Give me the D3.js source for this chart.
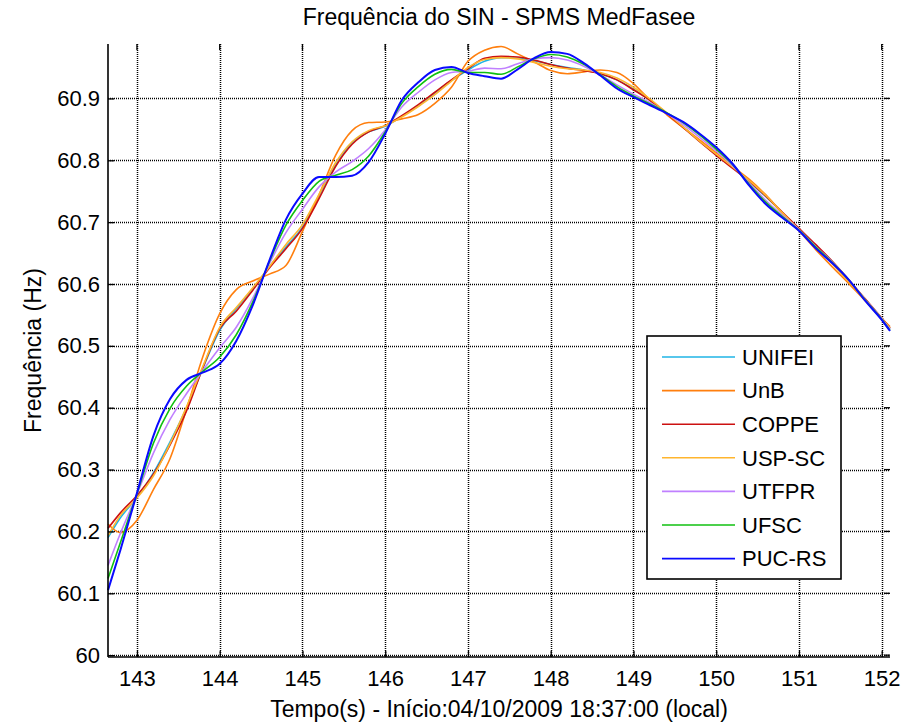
<!DOCTYPE html>
<html lang="pt">
<head>
<meta charset="utf-8">
<title>Frequência do SIN - SPMS MedFasee</title>
<script src="https://cdn.jsdelivr.net/npm/d3@7"></script>
<style>
  body { margin: 0; background: #fff; }
  svg { display: block; font-family: "Liberation Sans", Arial, sans-serif; }
</style>
</head>
<body>
<script>
// time axis (s)
var tempo = [142.65, 142.8, 143.0, 143.2, 143.4, 143.6, 143.8, 144.0, 144.2, 144.4, 144.6, 144.8,
  145.0, 145.2, 145.4, 145.6, 145.8, 146.0, 146.2, 146.4, 146.6, 146.8, 147.0, 147.2, 147.4,
  147.6, 147.8, 148.0, 148.2, 148.4, 148.6, 148.8, 149.0, 149.2, 149.4, 149.6, 149.8, 150.0,
  150.2, 150.4, 150.6, 150.8, 151.0, 151.2, 151.4, 151.6, 151.8, 152.0, 152.1];

var unifei = [60.190, 60.222, 60.255, 60.295, 60.345, 60.400, 60.465, 60.525, 60.560, 60.592, 60.628, 60.660,
  60.692, 60.742, 60.792, 60.828, 60.846, 60.855, 60.871, 60.888, 60.909, 60.929, 60.946, 60.960, 60.966,
  60.965, 60.961, 60.955, 60.950, 60.946, 60.940, 60.930, 60.915, 60.897, 60.876, 60.854, 60.831, 60.809,
  60.788, 60.765, 60.741, 60.715, 60.689, 60.663, 60.636, 60.606, 60.575, 60.544, 60.528];

var unb = [60.212, 60.198, 60.218, 60.268, 60.318, 60.398, 60.484, 60.552, 60.591, 60.605, 60.616, 60.630,
  60.685, 60.744, 60.808, 60.848, 60.861, 60.862, 60.867, 60.874, 60.892, 60.918, 60.960, 60.978, 60.984,
  60.972, 60.959, 60.945, 60.940, 60.943, 60.946, 60.942, 60.924, 60.897, 60.874, 60.853, 60.833, 60.812,
  60.790, 60.769, 60.744, 60.714, 60.686, 60.656, 60.628, 60.601, 60.573, 60.544, 60.531];

var coppe = [60.205, 60.230, 60.258, 60.293, 60.340, 60.395, 60.466, 60.528, 60.556, 60.590, 60.626, 60.657,
  60.690, 60.738, 60.790, 60.826, 60.846, 60.856, 60.872, 60.890, 60.910, 60.930, 60.948, 60.965, 60.968,
  60.967, 60.962, 60.955, 60.949, 60.945, 60.940, 60.930, 60.914, 60.897, 60.876, 60.853, 60.830, 60.808,
  60.787, 60.766, 60.742, 60.716, 60.690, 60.664, 60.637, 60.607, 60.576, 60.545, 60.529];

var uspsc = [60.193, 60.226, 60.254, 60.290, 60.342, 60.402, 60.468, 60.530, 60.562, 60.594, 60.628, 60.664,
  60.696, 60.745, 60.796, 60.830, 60.848, 60.856, 60.870, 60.887, 60.906, 60.928, 60.950, 60.963, 60.966,
  60.964, 60.958, 60.952, 60.948, 60.946, 60.942, 60.933, 60.918, 60.899, 60.877, 60.854, 60.831, 60.810,
  60.789, 60.767, 60.743, 60.715, 60.688, 60.660, 60.633, 60.604, 60.574, 60.544, 60.529];

var utfpr = [60.145, 60.197, 60.260, 60.327, 60.381, 60.423, 60.461, 60.497, 60.530, 60.577, 60.633, 60.683,
  60.721, 60.757, 60.781, 60.798, 60.819, 60.849, 60.886, 60.910, 60.930, 60.942, 60.944, 60.949, 60.948,
  60.956, 60.964, 60.966, 60.962, 60.952, 60.938, 60.922, 60.907, 60.893, 60.876, 60.858, 60.837, 60.815,
  60.791, 60.763, 60.735, 60.711, 60.688, 60.661, 60.636, 60.607, 60.575, 60.544, 60.527];

var ufsc = [60.124, 60.182, 60.261, 60.343, 60.399, 60.435, 60.459, 60.482, 60.518, 60.571, 60.636, 60.695,
  60.735, 60.766, 60.776, 60.785, 60.807, 60.846, 60.892, 60.919, 60.939, 60.947, 60.942, 60.942, 60.939,
  60.951, 60.964, 60.971, 60.967, 60.955, 60.938, 60.919, 60.904, 60.891, 60.877, 60.861, 60.841, 60.818,
  60.793, 60.761, 60.732, 60.709, 60.687, 60.660, 60.635, 60.607, 60.574, 60.543, 60.525];

var pucrs = [60.105, 60.170, 60.262, 60.355, 60.414, 60.445, 60.457, 60.471, 60.508, 60.566, 60.638, 60.704,
  60.746, 60.773, 60.773, 60.775, 60.797, 60.843, 60.897, 60.926, 60.946, 60.951, 60.941, 60.936, 60.932,
  60.947, 60.965, 60.975, 60.972, 60.957, 60.937, 60.916, 60.902, 60.889, 60.876, 60.862, 60.843, 60.821,
  60.794, 60.759, 60.729, 60.707, 60.686, 60.658, 60.634, 60.607, 60.573, 60.542, 60.524];

var nomes = ["UNIFEI", "UnB", "COPPE", "USP-SC", "UTFPR", "UFSC", "PUC-RS"];
var cores = ["#1fb4e6", "#ff7f0e", "#cc1010", "#ffb52e", "#c080ff", "#10c010", "#0a0aff"];
var valores = [unifei, unb, coppe, uspsc, utfpr, ufsc, pucrs];

var xTicks = [143, 144, 145, 146, 147, 148, 149, 150, 151, 152];
var yTicks = [60, 60.1, 60.2, 60.3, 60.4, 60.5, 60.6, 60.7, 60.8, 60.9];

//Width and height
var w = 917;
var h = 725;
var plotLeft = 108, plotRight = 890, plotTop = 44, plotBottom = 657;

var x = d3.scaleLinear().domain([142.65, 152.1]).range([plotLeft, plotRight]);
var y = d3.scaleLinear().domain([59.997, 60.988]).range([plotBottom, plotTop]);

var svg = d3.select("body")
  .append("svg")
  .attr("width", w)
  .attr("height", h);

// grid (dotted, black)
svg.append("g")
  .selectAll("line")
  .data(xTicks)
  .enter()
  .append("line")
  .attr("x1", function(d) { return Math.round(x(d)) + 0.5; })
  .attr("x2", function(d) { return Math.round(x(d)) + 0.5; })
  .attr("y1", plotTop)
  .attr("y2", plotBottom)
  .attr("stroke", "#000")
  .attr("stroke-width", 1.5)
  .attr("stroke-dasharray", "1,1");

svg.append("g")
  .selectAll("line")
  .data(yTicks)
  .enter()
  .append("line")
  .attr("x1", plotLeft)
  .attr("x2", plotRight)
  .attr("y1", function(d) { return Math.round(y(d)) + 0.5; })
  .attr("y2", function(d) { return Math.round(y(d)) + 0.5; })
  .attr("stroke", "#000")
  .attr("stroke-width", 1.5)
  .attr("stroke-dasharray", "1,1");

// series lines
var linha = d3.line()
  .x(function(d, i) { return x(tempo[i]); })
  .y(function(d) { return y(d); })
  .curve(d3.curveMonotoneX);

svg.append("g")
  .selectAll("path")
  .data(valores)
  .enter()
  .append("path")
  .attr("d", linha)
  .attr("fill", "none")
  .attr("stroke", function(d, i) { return cores[i]; })
  .attr("stroke-width", function(d, i) { return i == 6 ? 2 : 1.6; });

// axes (left + bottom, ticks inward on all sides)
var yAxis = d3.axisLeft(y).tickValues(yTicks).tickSize(-6).tickPadding(8)
  .tickFormat(function(d) { return d === 60 ? "60" : d3.format(".1f")(d); });
var xAxis = d3.axisBottom(x).tickValues(xTicks).tickSize(-6).tickPadding(12)
  .tickFormat(d3.format("d"));

var gy = svg.append("g").attr("transform", "translate(" + plotLeft + ",0)").call(yAxis);
var gx = svg.append("g").attr("transform", "translate(0," + plotBottom + ")").call(xAxis);
[gx, gy].forEach(function(g) {
  g.select(".domain").remove();
  g.selectAll(".tick line").attr("stroke", "#000").attr("stroke-width", 1.3);
  g.selectAll("text").attr("font-size", 22).attr("fill", "#000")
    .attr("font-family", "'Liberation Sans', Arial, sans-serif");
});
gx.selectAll("text").attr("dy", "0.75em");

// top and right inward ticks
svg.append("g").selectAll("line").data(xTicks).enter().append("line")
  .attr("x1", function(d) { return x(d); }).attr("x2", function(d) { return x(d); })
  .attr("y1", plotTop).attr("y2", plotTop + 6).attr("stroke", "#000").attr("stroke-width", 1.3);
svg.append("g").selectAll("line").data(yTicks).enter().append("line")
  .attr("x1", plotRight - 6).attr("x2", plotRight)
  .attr("y1", function(d) { return y(d); }).attr("y2", function(d) { return y(d); })
  .attr("stroke", "#000").attr("stroke-width", 1.3);

// axis lines
svg.append("line").attr("x1", plotLeft).attr("x2", plotLeft).attr("y1", plotTop).attr("y2", plotBottom)
  .attr("stroke", "#000").attr("stroke-width", 1.6);
svg.append("line").attr("x1", plotLeft).attr("x2", plotRight).attr("y1", plotBottom).attr("y2", plotBottom)
  .attr("stroke", "#000").attr("stroke-width", 1.6);

// title and labels
svg.append("text")
  .attr("x", (plotLeft + plotRight) / 2)
  .attr("y", 25)
  .attr("text-anchor", "middle")
  .attr("font-size", 23)
  .text("Frequência do SIN - SPMS MedFasee");

svg.append("text")
  .attr("x", (plotLeft + plotRight) / 2)
  .attr("y", 717)
  .attr("text-anchor", "middle")
  .attr("font-size", 23)
  .text("Tempo(s) - Início:04/10/2009 18:37:00 (local)");

svg.append("text")
  .attr("transform", "translate(41," + (plotTop + plotBottom) / 2 + ") rotate(-90)")
  .attr("text-anchor", "middle")
  .attr("font-size", 23)
  .text("Frequência (Hz)");

// legend
var lg = svg.append("g").attr("transform", "translate(647,336)");
lg.append("rect")
  .attr("width", 194)
  .attr("height", 243)
  .attr("fill", "#fff")
  .attr("stroke", "#000")
  .attr("stroke-width", 1.6);

var item = lg.selectAll("g.item")
  .data(nomes)
  .enter()
  .append("g")
  .attr("class", "item")
  .attr("transform", function(d, i) { return "translate(0," + (21 + i * 33.6) + ")"; });

item.append("line")
  .attr("x1", 15).attr("x2", 88)
  .attr("stroke", function(d, i) { return cores[i]; })
  .attr("stroke-width", 1.6);

item.append("text")
  .attr("x", 95)
  .attr("dy", "0.35em")
  .attr("font-size", 22)
  .text(function(d) { return d; });
</script>
</body>
</html>
